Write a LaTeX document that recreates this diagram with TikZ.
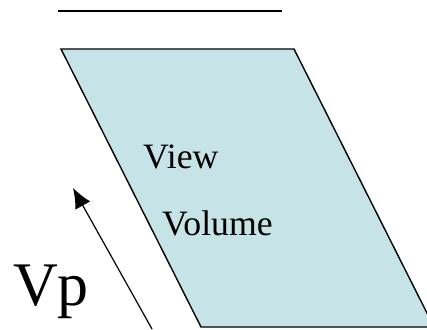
\documentclass[tikz,border=0pt]{standalone}
\usepackage{fontspec}
\setmainfont{Liberation Serif}
\usetikzlibrary{arrows.meta}
\definecolor{vvfill}{RGB}{198,228,232}
\begin{document}
\begin{tikzpicture}[x=1pt,y=-1pt,
  edge/.style={line width=1.4pt,line join=miter},
  lbl/.style={anchor=base west,inner sep=0pt,font=\fontsize{35.7}{40}\selectfont},
  big/.style={anchor=base west,inner sep=0pt,font=\fontsize{62}{70}\selectfont}]
\useasboundingbox (0,0) rectangle (427,329);
\clip (0,0) rectangle (427,329);
\coordinate (la) at (58,11);
\coordinate (lb) at (282,11);
\draw[line width=1.3pt] (la) -- (lb);
\coordinate (p1) at (61,49);
\coordinate (p2) at (294,49);
\coordinate (p3) at (434,327);
\coordinate (p4) at (201,327);
\draw[edge,fill=vvfill] (p1) -- (p2) -- (p3) -- (p4) -- cycle;
\node[lbl] (view) at (143,168) {View};
\node[lbl] (vol) at (162,235) {Volume};
\node[big] (vp) at (13,305) {Vp};
\coordinate (at) at (152,329);
\coordinate (ah) at (73,188);
\draw[line width=1.2pt,-{Latex[length=20pt,width=17pt]}] (at) -- (ah);
\end{tikzpicture}
\end{document}
